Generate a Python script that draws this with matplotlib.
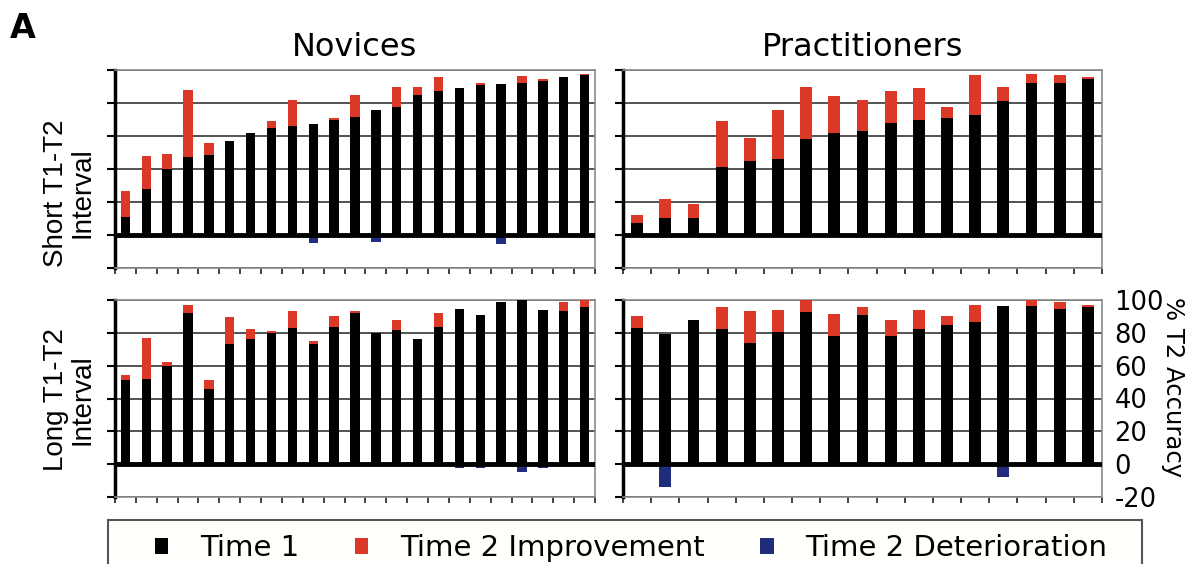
import numpy as np
import matplotlib
matplotlib.use('Agg')
import matplotlib.pyplot as plt
from matplotlib.patches import Patch, Rectangle
from matplotlib import font_manager

# % T2 accuracy at time 1, and the change at time 2 (negative = worse)
nov_short_t1 = [11, 28, 40, 47, 48.5, 57, 62, 65, 66, 67, 70, 71.5,
                76, 77.5, 85, 87, 89, 91, 91.5, 92, 93.5, 96, 97]
nov_short_chg = [15.5, 20, 9, 41, 7.5, -1, -1, 4, 16, -5, 1, 13.5,
                 -4, 12.5, 5, 9, 0, 1, -5.5, 4.5, 1, -1, 0.5]

prac_short_t1 = [7, 10.5, 10.5, 41, 45, 46, 58, 62, 63, 68, 69.5, 71,
                 73, 81, 92, 92, 94.5]
prac_short_chg = [5, 11.5, 8.5, 28, 13.5, 29.5, 31.5, 22, 19, 19, 19.5,
                  6.5, 24, 9, 5.5, 5, 1.5]

nov_long_t1 = [51.5, 52, 60, 92, 46, 73, 76.5, 80, 83, 73, 83.5, 92,
               80, 81.5, 76.5, 83.5, 94.5, 91, 98.5, 100, 94, 93, 95.5]
nov_long_chg = [3, 25, 2.5, 5, 5, 16.5, 6, 1, 10, 2, 7, 1,
                -0.5, 6.5, -1, 8.5, -2.5, -2.5, -1, -4.5, -2.5, 5.5, 4.5]

prac_long_t1 = [83, 79.5, 88, 82.5, 74, 80.5, 92.5, 78, 91, 78, 82.5,
                84.5, 86.5, 96.5, 96.5, 94.5, 95.5]
prac_long_chg = [7, -14, 0, 13, 19.5, 13.5, 7.5, 13.5, 4.5, 10, 11.5,
                 5.5, 10.5, -8, 3.5, 4.5, 1.5]

yticks = [-20, 0, 20, 40, 60, 80, 100]
legend_labels = ['Time 1', 'Time 2 Improvement', 'Time 2 Deterioration']

c_t1 = 'black'
c_up = '#dc3828'
c_down = '#1f2d7c'

# condensed face for the row labels if we have it
names = set(f.name for f in font_manager.fontManager.ttflist)
if 'Liberation Sans Narrow' in names:
    row_font, row_size = 'Liberation Sans Narrow', 24
else:
    row_font, row_size = 'Liberation Sans', 20

W, H = 1196, 564
fig = plt.figure(figsize=(W / 100, H / 100), dpi=100)


def px_axes(x0, y0, x1, y1):
    # axes from pixel box (top-left origin)
    return fig.add_axes([x0 / W, 1 - y1 / H, (x1 - x0) / W, (y1 - y0) / H])


def panel(ax, t1, chg, width):
    t1 = np.array(t1, dtype=float)
    chg = np.array(chg, dtype=float)
    n = len(t1)
    x = np.arange(n)
    ax.bar(x, t1, width=width, color=c_t1, zorder=3)
    ax.bar(x, np.clip(chg, 0, None), bottom=t1, width=width, color=c_up, zorder=3)
    ax.bar(x, np.clip(chg, None, 0), width=width, color=c_down, zorder=2)
    ax.axhline(0, color='black', lw=3.5, zorder=4)
    ax.set_xlim(-0.5, n - 0.5)
    ax.set_ylim(-20, 100)
    ax.set_yticks(yticks)
    ax.set_yticklabels([])
    ax.yaxis.grid(True, color='#454545', lw=1.3, zorder=1)
    ax.set_xticks(np.arange(-0.5, n, 1))
    ax.set_xticklabels([])
    ax.tick_params(axis='x', direction='out', length=4, width=1.2, color='#222')
    ax.tick_params(axis='y', direction='out', length=6, width=1.5, color='black')
    ax.spines['left'].set_linewidth(2.5)
    ax.spines['left'].set_color('black')
    for s in ['top', 'right', 'bottom']:
        ax.spines[s].set_color('#8a8a8a')
        ax.spines[s].set_linewidth(1.2)


ax_ns = px_axes(115, 70, 595, 268)
ax_ps = px_axes(623, 70, 1102, 268)
ax_nl = px_axes(115, 300, 595, 497)
ax_pl = px_axes(623, 300, 1102, 497)

panel(ax_ns, nov_short_t1, nov_short_chg, 0.45)
panel(ax_ps, prac_short_t1, prac_short_chg, 0.42)
panel(ax_nl, nov_long_t1, nov_long_chg, 0.45)
panel(ax_pl, prac_long_t1, prac_long_chg, 0.42)

ax_ns.set_title('Novices', fontsize=23, pad=10)
ax_ps.set_title('Practitioners', fontsize=23, pad=10)

# right hand scale only on the bottom right panel
ax_pl.set_yticklabels([str(v) for v in yticks])
ax_pl.tick_params(axis='y', labelleft=False, labelright=True, right=False,
                  labelsize=18.5, pad=3)

fig.text(1173 / W, 1 - 387 / H, '% T2 Accuracy', rotation=270,
         ha='center', va='center', fontsize=17.5)

fig.text(69 / W, 1 - 193 / H, 'Short T1-T2\nInterval', rotation=90,
         ha='center', va='center', multialignment='center',
         family=row_font, fontsize=row_size, linespacing=1.0)
fig.text(69 / W, 1 - 400 / H, 'Long T1-T2\nInterval', rotation=90,
         ha='center', va='center', multialignment='center',
         family=row_font, fontsize=row_size, linespacing=1.0)

fig.text(10 / W, 1 - 28 / H, 'A', fontsize=24, fontweight='bold',
         ha='left', va='center')

# legend box runs off the bottom edge, so draw the frame by hand
fig.add_artist(Rectangle((108 / W, -0.05), (1142 - 108) / W, 1 - 520 / H + 0.05,
                         transform=fig.transFigure, facecolor='#fffffc',
                         edgecolor='#555555', linewidth=1.5, zorder=0))

handles = [Patch(facecolor=c, edgecolor='none') for c in (c_t1, c_up, c_down)]
leg = fig.legend(handles, legend_labels, ncol=3, loc='upper left',
                 bbox_to_anchor=(142 / W, 1 - 521 / H), fontsize=21,
                 handlelength=0.45, handleheight=0.45, handletextpad=1.1,
                 columnspacing=1.9, borderpad=0.45, borderaxespad=0,
                 frameon=False)

fig.savefig('out.png', dpi=100)
